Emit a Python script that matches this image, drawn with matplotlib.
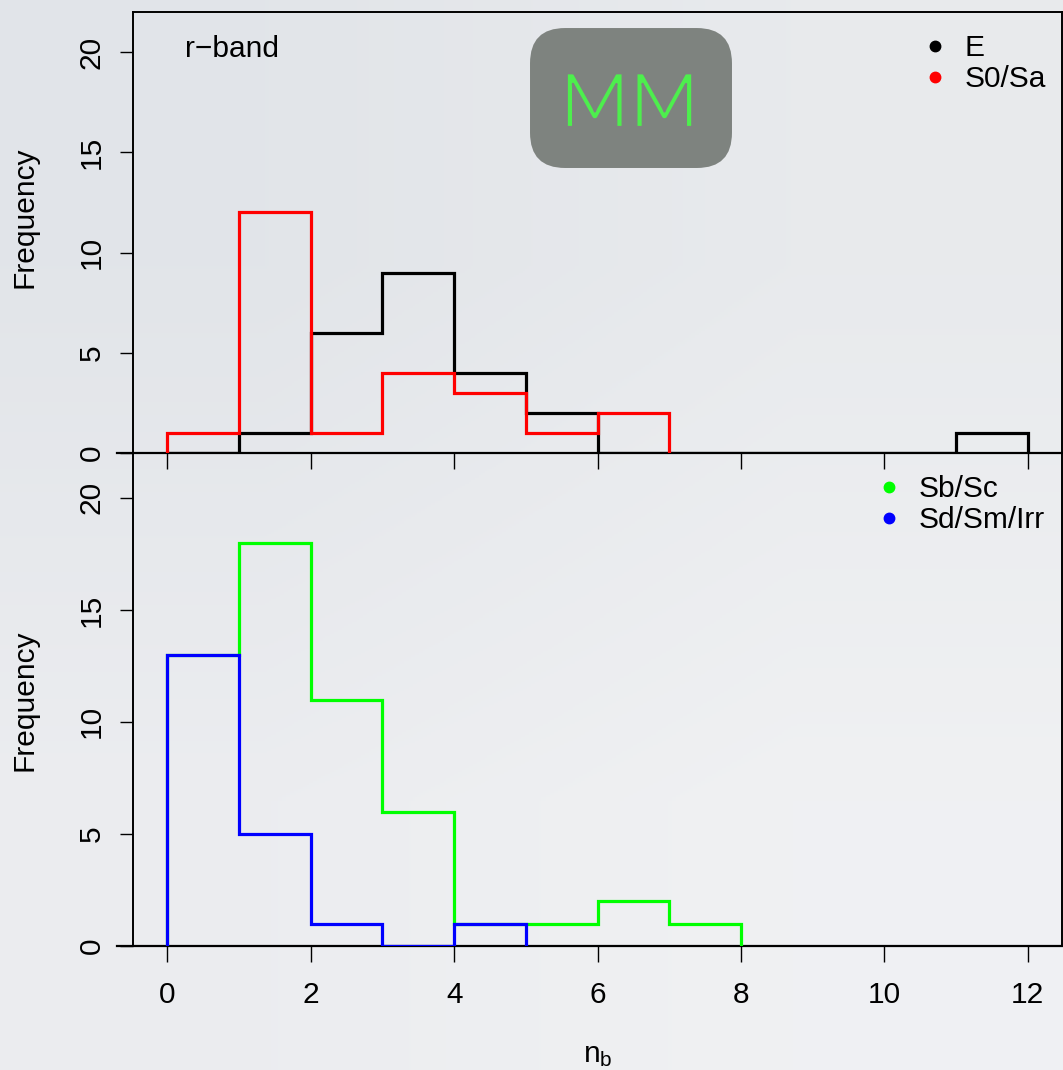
import numpy as np
import matplotlib
matplotlib.use("Agg")
import matplotlib.pyplot as plt
import matplotlib.patheffects as pe
from matplotlib.lines import Line2D
from matplotlib.patches import FancyBboxPatch

plt.rcParams["font.family"] = ["Liberation Sans", "DejaVu Sans"]
plt.rcParams["mathtext.fontset"] = "custom"

# histogram counts per unit bin (n_b)
e_edges = np.arange(0, 13)
e_counts = [0, 1, 6, 9, 4, 2, 0, 0, 0, 0, 0, 1]
s0_edges = np.arange(0, 8)
s0_counts = [1, 12, 1, 4, 3, 1, 2]
sb_edges = np.arange(0, 9)
sb_counts = [13, 18, 11, 6, 1, 1, 2, 1]  # first bin sits under the blue one
sd_edges = np.arange(0, 6)
sd_counts = [13, 5, 1, 0, 1]

x_ticks = [0, 2, 4, 6, 8, 10, 12]
y_ticks = [0, 5, 10, 15, 20]
FS = 21.5
BADGE = "#7e837f"


def step_hist(ax, edges, counts, color):
    edges = np.asarray(edges, dtype=float)
    counts = np.asarray(counts, dtype=float)
    x = np.concatenate([[edges[0]], edges])
    y = np.concatenate([[0], counts, [0]])
    ax.plot(x, y, drawstyle="steps-post", color=color, lw=2.3, zorder=3,
            solid_joinstyle="miter")


def style_axis(ax, labels_x):
    ax.set_facecolor("none")
    ax.set_xlim(-0.48, 12.48)
    ax.set_ylim(0, 22)
    ax.set_xticks(x_ticks)
    ax.set_yticks(y_ticks)
    ax.spines["bottom"].set_visible(False)
    for s in ("left", "top", "right"):
        ax.spines[s].set_linewidth(1.4)
    ax.axhline(0, xmin=-0.0175, xmax=1, color="black", lw=1.6,
               clip_on=False, zorder=2)
    ax.tick_params(axis="y", direction="out", length=9.5, width=1.0,
                   labelsize=FS, pad=10, labelrotation=90)
    ax.tick_params(axis="x", direction="out", length=11.5, width=1.0,
                   labelsize=FS, pad=14, labelbottom=labels_x)
    for lab in ax.get_yticklabels():
        lab.set_va("center")


fig = plt.figure(figsize=(10.63, 10.70), dpi=100)

# slide background
bg = fig.add_axes([0, 0, 1, 1], zorder=-10)
grad = np.array([[[0.886, 0.898, 0.914], [0.910, 0.918, 0.929]],
                 [[0.925, 0.929, 0.941], [0.941, 0.945, 0.953]]])
bg.imshow(grad, interpolation="bilinear", aspect="auto", extent=[0, 1, 0, 1])
bg.axis("off")

ax1 = fig.add_axes([0.1251, 0.5766, 0.8740, 0.4122])
ax2 = fig.add_axes([0.1251, 0.1159, 0.8740, 0.4607])

style_axis(ax1, False)
style_axis(ax2, True)
ax2.spines["top"].set_visible(False)

step_hist(ax1, e_edges, e_counts, "black")
step_hist(ax1, s0_edges, s0_counts, "#ff0000")
step_hist(ax2, sb_edges, sb_counts, "#00ff00")
step_hist(ax2, sd_edges, sd_counts, "#0000ff")

ax1.text(0.056, 0.898, "r\u2212band", transform=ax1.transAxes,
         fontsize=FS, ha="left", va="baseline")


def dot(c):
    return Line2D([], [], ls="none", marker="o", ms=7.5, color=c)


leg_kw = dict(frameon=False, fontsize=FS, handlelength=0.6,
              handletextpad=0.7, borderpad=0, borderaxespad=0,
              labelspacing=0.1, loc="upper left")
ax1.legend([dot("black"), dot("#ff0000")], ["E", "S0/Sa"],
           bbox_to_anchor=(0.8536, 0.950), **leg_kw)
ax2.legend([dot("#00ff00"), dot("#0000ff")], ["Sb/Sc", "Sd/Sm/Irr"],
           bbox_to_anchor=(0.804, 0.955), **leg_kw)

fig.text(0.0226, 1 - 217 / 1070, "Frequency", rotation=90, fontsize=FS,
         ha="center", va="center")
fig.text(0.0226, 1 - 700 / 1070, "Frequency", rotation=90, fontsize=FS,
         ha="center", va="center")
fig.text(0.562, 1 - 1062 / 1070, r"$\mathregular{n_b}$", fontsize=FS,
         ha="center", va="baseline")

# "MM" badge
badge = FancyBboxPatch((0.4986, 0.843), 0.190, 0.1308,
                       boxstyle="round,pad=0,rounding_size=0.033",
                       transform=fig.transFigure, facecolor=BADGE,
                       edgecolor="none", zorder=5)
fig.patches.append(badge)
mm = fig.text(0.5922, 1 - 127 / 1070, "MM", fontsize=54, color="#4def4d",
              family="Lato", weight="normal", ha="center", va="baseline",
              zorder=6)
# thin the glyphs a little by stroking their edges in the badge colour
mm.set_path_effects([pe.Stroke(linewidth=1.6, foreground=BADGE)])

fig.savefig("out.png", dpi=100)
